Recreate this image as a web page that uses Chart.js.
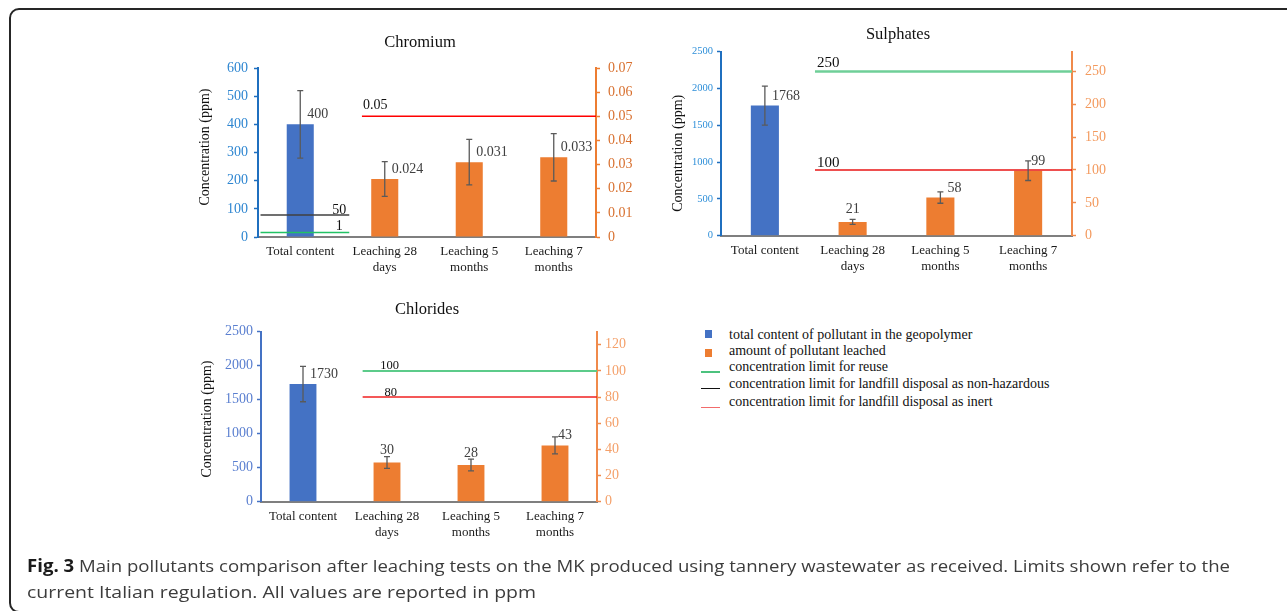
<!DOCTYPE html>
<html>
<head>
<meta charset="utf-8">
<script src="https://cdn.jsdelivr.net/npm/chart.js@4.4.1/dist/chart.umd.min.js"></script>
<style>
html,body{margin:0;padding:0;background:#fff;}
body{width:1287px;height:611px;overflow:hidden;position:relative;font-family:'Liberation Serif','Times New Roman',serif;}
#frame{position:absolute;left:9px;top:8px;width:1400px;height:605px;border:2px solid #262626;border-radius:10px;box-sizing:border-box;}
canvas{position:absolute;}
#c1{left:190px;top:20px;}
#c2{left:660px;top:20px;}
#c3{left:190px;top:295px;}
.lt{position:absolute;left:729px;font-size:14px;line-height:14px;color:#111;white-space:nowrap;}
.sw{position:absolute;}
#caption{position:absolute;left:27px;top:553px;font-family:'Open Sans',sans-serif;font-size:17px;line-height:26px;color:#3c3c3c;white-space:nowrap;}
#caption span{display:inline-block;transform-origin:0 0;}
#caption b{color:#1a1a1a;font-weight:700;}
</style>
</head>
<body>
<div id="frame"></div>
<canvas id="c1" width="460" height="270"></canvas>
<canvas id="c2" width="460" height="270"></canvas>
<canvas id="c3" width="460" height="260"></canvas>

<div class="sw" style="left:705px;top:330px;width:7px;height:8px;background:#4472C4"></div>
<div class="lt" style="top:327.6px">total content of pollutant in the geopolymer</div>
<div class="sw" style="left:705px;top:348.5px;width:7px;height:8px;background:#ED7D31"></div>
<div class="lt" style="top:344.3px">amount of pollutant leached</div>
<div class="sw" style="left:701px;top:371px;width:19px;height:1.5px;background:#4CC27E"></div>
<div class="lt" style="top:360px">concentration limit for reuse</div>
<div class="sw" style="left:701px;top:387.5px;width:19px;height:1.5px;background:#111"></div>
<div class="lt" style="top:376.6px">concentration limit for landfill disposal as non-hazardous</div>
<div class="sw" style="left:701px;top:406.5px;width:19px;height:1.5px;background:#F26B6B"></div>
<div class="lt" style="top:395px">concentration limit for landfill disposal as inert</div>

<div id="caption"><div><span id="cap1"><b>Fig. 3</b> Main pollutants comparison after leaching tests on the MK produced using tannery wastewater as received. Limits shown refer to the</span></div><div><span id="cap2">current Italian regulation. All values are reported in ppm</span></div></div>

<script>
// ---------- DATA ----------
const categories = [['Total content'], ['Leaching 28', 'days'], ['Leaching 5', 'months'], ['Leaching 7', 'months']];

// Chromium
const chromiumTotal       = [400, null, null, null];
const chromiumTotalErr    = [120, null, null, null];
const chromiumLeached     = [null, 0.024, 0.031, 0.033];
const chromiumLeachedErr  = [null, 0.0072, 0.0094, 0.0098];
const chromiumLeftTicks   = [0, 100, 200, 300, 400, 500, 600];
const chromiumRightTicks  = [0, 0.01, 0.02, 0.03, 0.04, 0.05, 0.06, 0.07];
const chromiumAxisMax     = [600, 0.07];
const chromiumLimitLevels = [0.05, 78, 16];
const chromiumLimitLabels = ['0.05', '50', '1'];
const chromiumLimitKinds  = ['inert', 'nonhazardous', 'reuse'];
const chromiumLimitAxes   = ['y1', 'y', 'y'];
const chromiumLimitFrom   = [0.73, -0.47, -0.47];
const chromiumLimitTo     = [3.5, 0.58, 0.58];

// Sulphates
const sulphatesTotal       = [1768, null, null, null];
const sulphatesTotalErr    = [265, null, null, null];
const sulphatesLeached     = [null, 21, 58, 99];
const sulphatesLeachedErr  = [null, 3.7, 8.6, 15];
const sulphatesLeftTicks   = [0, 500, 1000, 1500, 2000, 2500];
const sulphatesRightTicks  = [0, 50, 100, 150, 200, 250];
const sulphatesAxisMax     = [2500, 280];
const sulphatesLimitLevels = [250, 100];
const sulphatesLimitLabels = ['250', '100'];
const sulphatesLimitKinds  = ['reuse', 'inert'];
const sulphatesLimitAxes   = ['y1', 'y1'];
const sulphatesLimitFrom   = [0.571, 0.571];
const sulphatesLimitTo     = [3.5, 3.5];

// Chlorides
const chloridesTotal       = [1730, null, null, null];
const chloridesTotalErr    = [260, null, null, null];
const chloridesLeached     = [null, 30, 28, 43];
const chloridesLeachedErr  = [null, 4.5, 4.5, 6.5];
const chloridesLeftTicks   = [0, 500, 1000, 1500, 2000, 2500];
const chloridesRightTicks  = [0, 20, 40, 60, 80, 100, 120];
const chloridesAxisMax     = [2500, 130];
const chloridesLimitLevels = [100, 80];
const chloridesLimitLabels = ['100', '80'];
const chloridesLimitKinds  = ['reuse', 'inert'];
const chloridesLimitAxes   = ['y1', 'y1'];
const chloridesLimitFrom   = [0.71, 0.71];
const chloridesLimitTo     = [3.5, 3.5];

// ---------- RENDERING ----------
const FONT = "'Liberation Serif', 'Times New Roman', serif";
Chart.defaults.font.family = FONT;
Chart.defaults.animation = false;

const annotatePlugin = {
  id: 'annotate',
  afterDatasetsDraw(chart, args, o) {
    const ctx = chart.ctx;
    ctx.save();
    chart.data.datasets.forEach((ds, i) => {
      const meta = chart.getDatasetMeta(i);
      if (ds.type === 'bar') {
        const ys = chart.scales[ds.yAxisID];
        meta.data.forEach((el, j) => {
          const v = ds.data[j];
          if (v === null || v === undefined) return;
          const e = ds.errors[j];
          const x = el.x;
          const yt = ys.getPixelForValue(v + e), yb = ys.getPixelForValue(v - e);
          ctx.strokeStyle = '#5a5a5a';
          ctx.lineWidth = 1.3;
          ctx.beginPath();
          ctx.moveTo(x, yt); ctx.lineTo(x, yb);
          ctx.moveTo(x - 3, yt); ctx.lineTo(x + 3, yt);
          ctx.moveTo(x - 3, yb); ctx.lineTo(x + 3, yb);
          ctx.stroke();
          const a = o.labelPlacement[ds.labelAlign[j]];
          ctx.fillStyle = '#404040';
          ctx.font = '14px ' + FONT;
          ctx.textBaseline = 'alphabetic';
          ctx.textAlign = a.align;
          ctx.fillText(String(v), x + a.dx, el.y + a.dy);
        });
      } else if (ds.limitLabel !== undefined) {
        const p0 = meta.data[0], p1 = meta.data[1];
        const s = ds.labelStyle;
        const ax = s.anchor === 'start' ? p0.x : p1.x;
        ctx.font = s.size + 'px ' + FONT;
        ctx.fillStyle = '#111';
        ctx.textAlign = s.align;
        ctx.textBaseline = 'alphabetic';
        ctx.fillText(ds.limitLabel, ax + s.dx, p0.y + s.dy);
      }
    });
    // panel title
    ctx.fillStyle = '#111';
    ctx.font = '16.5px ' + FONT;
    ctx.textAlign = 'center';
    ctx.textBaseline = 'alphabetic';
    ctx.fillText(o.title, o.titleX, o.titleY);
    // y axis title
    ctx.translate(o.yTitleX, o.yTitleY);
    ctx.rotate(-Math.PI / 2);
    ctx.font = '14px ' + FONT;
    ctx.fillText('Concentration (ppm)', 0, 0);
    ctx.restore();
  }
};

function makePanel(id, P) {
  const datasets = [];
  P.limitLevels.forEach((lv, k) => {
    const st = P.limitStyle[k];
    datasets.push({
      type: 'line',
      label: P.limitKinds[k],
      data: [{x: P.limitFrom[k], y: lv}, {x: P.limitTo[k], y: lv}],
      xAxisID: 'xl',
      yAxisID: P.limitAxes[k],
      borderColor: st.color,
      borderWidth: st.width,
      pointRadius: 0,
      fill: false,
      tension: 0,
      order: 0,
      limitLabel: P.limitLabels[k],
      labelStyle: st
    });
  });
  datasets.push({
    type: 'bar', label: 'total content of pollutant in the geopolymer',
    data: P.total, errors: P.totalErr, labelAlign: P.totalAlign,
    backgroundColor: '#4472C4', xAxisID: 'x', yAxisID: 'y',
    grouped: false, barPercentage: 0.4, categoryPercentage: 0.8, order: 2
  });
  datasets.push({
    type: 'bar', label: 'amount of pollutant leached',
    data: P.leached, errors: P.leachedErr, labelAlign: P.leachedAlign,
    backgroundColor: '#ED7D31', xAxisID: 'x', yAxisID: 'y1',
    grouped: false, barPercentage: 0.4, categoryPercentage: 0.8, order: 2
  });

  const L = P.layout;
  new Chart(document.getElementById(id), {
    type: 'bar',
    data: {labels: categories, datasets},
    plugins: [annotatePlugin],
    options: {
      responsive: false,
      animation: false,
      events: [],
      layout: {padding: {top: L.top, left: 0, right: 0, bottom: 0}},
      plugins: {
        legend: {display: false},
        tooltip: {enabled: false},
        annotate: {
          title: P.title, titleX: L.titleX, titleY: L.titleY,
          yTitleX: L.yTitleX, yTitleY: L.yTitleY,
          labelPlacement: {
            right: {align: 'left', dx: 7, dy: -6},
            rightNear: {align: 'left', dx: 3, dy: -6},
            center: {align: 'center', dx: 0, dy: -8.5}
          }
        }
      },
      scales: {
        x: {
          type: 'category', offset: true,
          grid: {display: false, drawTicks: false},
          border: {display: true, color: '#7f7f7f', width: 2},
          ticks: {color: '#1a1a1a', font: {size: 13, family: FONT}, padding: L.xPad, maxRotation: 0, minRotation: 0, autoSkip: false},
          afterFit: s => { s.height = L.xHeight; }
        },
        xl: {
          type: 'linear', position: 'bottom', display: false, offset: false,
          min: -0.5, max: 3.5, bounds: 'data',
          grid: {offset: false}
        },
        y: {
          type: 'linear', position: 'left', min: 0, max: P.axisMax[0],
          afterBuildTicks: s => { s.ticks = P.leftTicks.map(v => ({value: v})); },
          ticks: {color: P.leftLabelColor, font: {size: P.leftSize, family: FONT}, padding: L.leftPad, callback: v => String(v)},
          grid: {drawOnChartArea: false, drawTicks: true, tickLength: 4, tickColor: P.leftAxisColor, tickWidth: 1.5},
          border: {color: P.leftAxisColor, width: 2},
          afterFit: s => { s.width = L.leftWidth; }
        },
        y1: {
          type: 'linear', position: 'right', min: 0, max: P.axisMax[1],
          afterBuildTicks: s => { s.ticks = P.rightTicks.map(v => ({value: v})); },
          ticks: {color: P.rightLabelColor, font: {size: P.rightSize, family: FONT}, padding: L.rightPad, callback: v => String(v)},
          grid: {drawOnChartArea: false, drawTicks: true, tickLength: 4, tickColor: P.rightAxisColor, tickWidth: 1.5},
          border: {color: P.rightAxisColor, width: 2},
          afterFit: s => { s.width = L.rightWidth; }
        }
      }
    }
  });
}

makePanel('c1', {
  title: 'Chromium',
  total: chromiumTotal, totalErr: chromiumTotalErr, totalAlign: ['right', null, null, null],
  leached: chromiumLeached, leachedErr: chromiumLeachedErr, leachedAlign: [null, 'right', 'right', 'right'],
  leftTicks: chromiumLeftTicks, rightTicks: chromiumRightTicks, axisMax: chromiumAxisMax,
  limitLevels: chromiumLimitLevels, limitLabels: chromiumLimitLabels, limitKinds: chromiumLimitKinds,
  limitAxes: chromiumLimitAxes, limitFrom: chromiumLimitFrom, limitTo: chromiumLimitTo,
  limitStyle: [
    {color: '#FF0000', width: 1.5, anchor: 'start', align: 'left', dx: 1, dy: -7, size: 14},
    {color: '#404040', width: 1.5, anchor: 'end', align: 'center', dx: -10, dy: -1.5, size: 14},
    {color: '#22C265', width: 1.5, anchor: 'end', align: 'center', dx: -10, dy: -2, size: 14}
  ],
  leftLabelColor: '#2E86D1', leftAxisColor: '#1F6FBF', leftSize: 14,
  rightLabelColor: '#D8702F', rightAxisColor: '#ED7D31', rightSize: 14,
  layout: {top: 48, xHeight: 53, leftWidth: 68, rightWidth: 54, xPad: 7, leftPad: 6, rightPad: 8,
           titleX: 230, titleY: 26.7, yTitleX: 19.3, yTitleY: 127}
});

makePanel('c2', {
  title: 'Sulphates',
  total: sulphatesTotal, totalErr: sulphatesTotalErr, totalAlign: ['right', null, null, null],
  leached: sulphatesLeached, leachedErr: sulphatesLeachedErr, leachedAlign: [null, 'center', 'right', 'rightNear'],
  leftTicks: sulphatesLeftTicks, rightTicks: sulphatesRightTicks, axisMax: sulphatesAxisMax,
  limitLevels: sulphatesLimitLevels, limitLabels: sulphatesLimitLabels, limitKinds: sulphatesLimitKinds,
  limitAxes: sulphatesLimitAxes, limitFrom: sulphatesLimitFrom, limitTo: sulphatesLimitTo,
  limitStyle: [
    {color: '#6FCF98', width: 2.5, anchor: 'start', align: 'left', dx: 2, dy: -4, size: 15},
    {color: '#E81515', width: 1.5, anchor: 'start', align: 'left', dx: 2, dy: -3, size: 15}
  ],
  leftLabelColor: '#2E8FD9', leftAxisColor: '#1F6FBF', leftSize: 10.5,
  rightLabelColor: '#F39A5E', rightAxisColor: '#F08A4B', rightSize: 14,
  layout: {top: 31.7, xHeight: 54.3, leftWidth: 61, rightWidth: 48, xPad: 7, leftPad: 4, rightPad: 9,
           titleX: 238, titleY: 19, yTitleX: 22, yTitleY: 133.3}
});

makePanel('c3', {
  title: 'Chlorides',
  total: chloridesTotal, totalErr: chloridesTotalErr, totalAlign: ['right', null, null, null],
  leached: chloridesLeached, leachedErr: chloridesLeachedErr, leachedAlign: [null, 'center', 'center', 'rightNear'],
  leftTicks: chloridesLeftTicks, rightTicks: chloridesRightTicks, axisMax: chloridesAxisMax,
  limitLevels: chloridesLimitLevels, limitLabels: chloridesLimitLabels, limitKinds: chloridesLimitKinds,
  limitAxes: chloridesLimitAxes, limitFrom: chloridesLimitFrom, limitTo: chloridesLimitTo,
  limitStyle: [
    {color: '#5CCB8A', width: 2, anchor: 'start', align: 'center', dx: 27, dy: -2, size: 12.5},
    {color: '#F02020', width: 1.5, anchor: 'start', align: 'center', dx: 28, dy: -1.5, size: 12.5}
  ],
  leftLabelColor: '#5A7FD0', leftAxisColor: '#4472C4', leftSize: 14,
  rightLabelColor: '#F4A06A', rightAxisColor: '#F08A4B', rightSize: 14,
  layout: {top: 36.7, xHeight: 53.3, leftWidth: 71, rightWidth: 53, xPad: 7, leftPad: 4, rightPad: 4,
           titleX: 237, titleY: 19, yTitleX: 21, yTitleY: 124}
});

// fit each caption line to the width of the reference text block
(function () {
  [['cap1', 1203], ['cap2', 509]].forEach(([id, target]) => {
    const el = document.getElementById(id);
    const w = el.getBoundingClientRect().width;
    el.style.transform = 'scaleX(' + (target / w).toFixed(4) + ')';
  });
})();
</script>
</body>
</html>
